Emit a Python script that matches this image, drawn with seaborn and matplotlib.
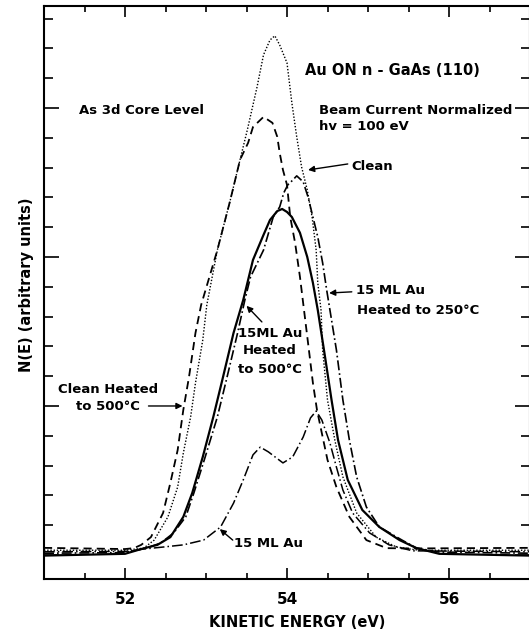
import matplotlib
matplotlib.use("Agg")
import matplotlib.pyplot as plt
import pandas as pd
import seaborn as sns
from matplotlib.ticker import MultipleLocator, NullFormatter

# As 3d core-level spectra, kinetic energy (eV) vs N(E) (arbitrary units)
energy_clean = [51.0, 52.0, 52.13, 52.23, 52.36, 52.53, 52.65, 52.72, 52.81, 52.87,
                52.96, 53.01, 53.14, 53.30, 53.42, 53.51, 53.63, 53.71, 53.79, 53.85,
                53.91, 54.00, 54.06, 54.12, 54.18, 54.25, 54.31, 54.36, 54.38, 54.42,
                54.44, 54.50, 54.59, 54.69, 54.86, 55.10, 55.35, 55.63, 57.0]
counts_clean = [0.16, 0.16, 0.20, 0.23, 0.50, 1.28, 2.28, 3.42, 4.63, 5.77,
                7.21, 8.39, 10.23, 11.91, 13.26, 14.26, 15.70, 16.78, 17.28, 17.42,
                17.11, 16.51, 15.17, 14.03, 13.02, 12.25, 11.34, 10.23, 9.13, 8.22,
                6.88, 5.20, 3.86, 2.62, 1.41, 0.60, 0.27, 0.16, 0.16]

energy_clean_500 = [51.0, 52.0, 52.11, 52.20, 52.32, 52.47, 52.56, 52.65, 52.72, 52.79,
                    52.87, 52.94, 53.14, 53.30, 53.42, 53.52, 53.58, 53.71, 53.82, 53.88,
                    53.91, 53.95, 54.00, 54.04, 54.10, 54.16, 54.21, 54.26, 54.32, 54.37,
                    54.43, 54.50, 54.61, 54.77, 54.98, 55.23, 55.51, 57.0]
counts_clean_500 = [0.24, 0.20, 0.23, 0.34, 0.60, 1.41, 2.42, 3.52, 4.87, 5.97,
                    7.45, 8.39, 10.23, 11.91, 13.26, 13.83, 14.36, 14.70, 14.50, 14.03,
                    13.49, 12.92, 12.42, 11.34, 10.47, 9.33, 8.22, 7.11, 5.77, 4.87,
                    4.09, 3.19, 2.28, 1.28, 0.50, 0.23, 0.22, 0.24]

energy_au_500 = [51.0, 52.0, 52.20, 52.40, 52.56, 52.72, 52.83, 52.96, 53.09, 53.21,
                 53.34, 53.46, 53.58, 53.71, 53.79, 53.88, 53.94, 54.00, 54.06, 54.16,
                 54.25, 54.32, 54.38, 54.47, 54.55, 54.63, 54.75, 54.93, 55.14, 55.39,
                 55.60, 55.88, 57.0]
counts_au_500 = [-0.02, 0.04, 0.20, 0.34, 0.60, 1.28, 2.08, 3.29, 4.63, 5.97,
                 7.45, 8.56, 9.90, 10.74, 11.24, 11.54, 11.61, 11.51, 11.34, 10.81,
                 10.00, 9.13, 8.22, 6.64, 5.20, 3.86, 2.52, 1.51, 0.94, 0.50,
                 0.23, 0.04, -0.02]

energy_au_250 = [51.0, 52.0, 52.26, 52.44, 52.60, 52.75, 52.85, 52.99, 53.14, 53.26,
                 53.39, 53.48, 53.55, 53.71, 53.83, 53.91, 53.96, 54.01, 54.06, 54.12,
                 54.20, 54.26, 54.32, 54.38, 54.44, 54.49, 54.53, 54.61, 54.69, 54.77,
                 54.86, 54.98, 55.14, 55.42, 55.60, 55.88, 57.0]
counts_au_250 = [0.06, 0.08, 0.23, 0.40, 0.74, 1.28, 2.08, 3.29, 4.63, 5.97,
                 7.45, 8.56, 9.33, 10.23, 11.34, 11.68, 12.15, 12.42, 12.55, 12.72,
                 12.52, 12.01, 11.34, 10.67, 9.80, 8.89, 8.22, 6.88, 5.20, 3.86,
                 2.62, 1.61, 0.94, 0.50, 0.23, 0.10, 0.06]

energy_au = [51.0, 52.0, 52.23, 52.48, 52.72, 52.97, 53.18, 53.34, 53.46, 53.58,
             53.67, 53.77, 53.95, 54.07, 54.20, 54.29, 54.36, 54.43, 54.53, 54.61,
             54.69, 54.81, 55.02, 55.26, 55.55, 57.0]
counts_au = [0.11, 0.12, 0.20, 0.27, 0.34, 0.50, 0.94, 1.74, 2.52, 3.36,
             3.62, 3.46, 3.09, 3.29, 3.96, 4.60, 4.83, 4.53, 3.76, 2.95,
             2.18, 1.41, 0.74, 0.34, 0.14, 0.11]

x_ticks = [52, 54, 56]

sns.set_theme(style="ticks")
plt.rcParams["font.family"] = ["DejaVu Sans"]
plt.rcParams["axes.linewidth"] = 1.5
plt.rcParams["text.color"] = "black"
plt.rcParams["axes.labelcolor"] = "black"
plt.rcParams["xtick.color"] = "black"
plt.rcParams["ytick.color"] = "black"
plt.rcParams["axes.edgecolor"] = "black"

fig = plt.figure(figsize=(5.29, 6.30), dpi=100)
ax = fig.add_axes([44 / 529, 51 / 630, 486 / 529, 573 / 630])

curves = [
    (energy_au, counts_au, dict(lw=1.1, linestyle=(0, (7, 2, 1, 2)))),
    (energy_clean, counts_clean, dict(lw=1.0, linestyle=(0, (1, 1.3)))),
    (energy_clean_500, counts_clean_500, dict(lw=1.3, linestyle=(0, (4.5, 2.8)))),
    (energy_au_250, counts_au_250, dict(lw=1.2, linestyle=(0, (6, 1.8, 1, 1.8)))),
    (energy_au_500, counts_au_500, dict(lw=1.6, linestyle="-")),
]
for xs, ys, style in curves:
    df = pd.DataFrame({"energy": xs, "counts": ys})
    sns.lineplot(data=df, x="energy", y="counts", ax=ax, color="black",
                 estimator=None, sort=False, **style)

ax.set_xlim(51, 57)
ax.set_ylim(-0.805, 18.42)

ax.xaxis.set_major_locator(MultipleLocator(2))
ax.xaxis.set_minor_locator(MultipleLocator(0.5))
ax.yaxis.set_major_locator(MultipleLocator(5))
ax.yaxis.set_minor_locator(MultipleLocator(1))
ax.yaxis.set_major_formatter(NullFormatter())
ax.set_xticks(x_ticks)
ax.set_xticklabels([str(t) for t in x_ticks], fontweight="bold")

ax.tick_params(which="both", direction="in", top=True, right=True,
               width=1.2, color="black")
ax.tick_params(axis="x", which="major", length=8, labelsize=11, pad=9)
ax.tick_params(axis="x", which="minor", length=4)
ax.tick_params(axis="y", which="major", length=11)
ax.tick_params(axis="y", which="minor", length=6.5)

ax.set_xlabel("KINETIC ENERGY (eV)", fontsize=10.5, fontweight="bold")
ax.xaxis.set_label_coords((297 - 44) / 486, -0.062)
ax.set_ylabel("N(E) (arbitrary units)", fontsize=10.5, fontweight="bold")
ax.yaxis.set_label_coords(-0.021, 0.513)

txt = dict(fontsize=9.5, fontweight="bold", color="black")
arrow = dict(arrowstyle="-|>", color="black", lw=1.0, mutation_scale=9,
             shrinkA=0, shrinkB=0)

ax.text(54.22, 16.24, "Au ON n - GaAs (110)", ha="left", va="center",
        fontsize=10.5, fontweight="bold")
ax.text(51.43, 14.93, "As 3d Core Level", ha="left", va="center", **txt)
ax.text(54.39, 14.93, "Beam Current Normalized", ha="left", va="center", **txt)
ax.text(54.39, 14.38, "hv = 100 eV", ha="left", va="center", **txt)

ax.text(54.80, 13.02, "Clean", ha="left", va="center", **txt)
ax.annotate("", xy=(54.26, 12.92), xytext=(54.75, 13.12), arrowprops=arrow)

ax.text(54.85, 8.89, "15 ML Au", ha="left", va="center", **txt)
ax.text(54.86, 8.22, "Heated to 250°C", ha="left", va="center", **txt)
ax.annotate("", xy=(54.52, 8.79), xytext=(54.80, 8.83), arrowprops=arrow)

ax.text(53.79, 7.42, "15ML Au", ha="center", va="center", **txt)
ax.text(53.79, 6.85, "Heated", ha="center", va="center", **txt)
ax.text(53.79, 6.24, "to 500°C", ha="center", va="center", **txt)
ax.annotate("", xy=(53.50, 8.36), xytext=(53.69, 7.82), arrowprops=arrow)

ax.text(51.79, 5.54, "Clean Heated", ha="center", va="center", **txt)
ax.text(51.79, 4.97, "to 500°C", ha="center", va="center", **txt)
ax.annotate("", xy=(52.71, 5.0), xytext=(52.29, 5.0), arrowprops=arrow)

ax.text(53.35, 0.37, "15 ML Au", ha="left", va="center", **txt)
ax.annotate("", xy=(53.17, 0.87), xytext=(53.33, 0.50), arrowprops=arrow)

fig.savefig("out.png", dpi=100, facecolor="white")
